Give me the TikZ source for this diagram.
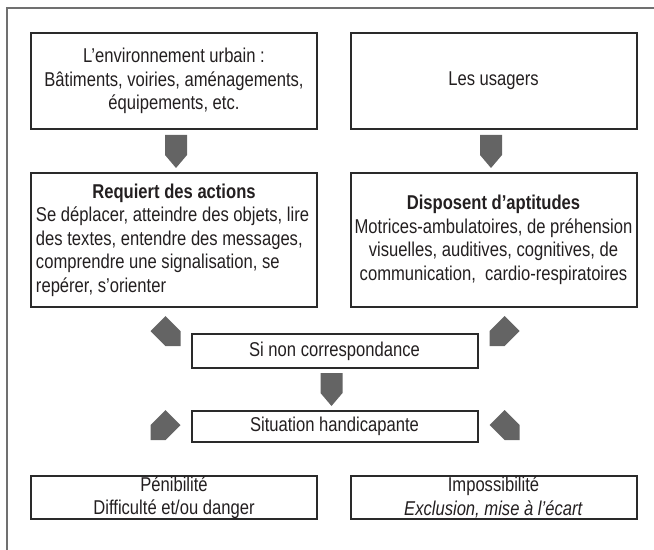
\documentclass[tikz,border=0pt]{standalone}
\usepackage{fontspec}
\setmainfont{Liberation Sans}[FakeStretch=0.83]
\usetikzlibrary{calc,positioning}

\definecolor{boxline}{HTML}{2A2A2A}
\definecolor{arrowgray}{HTML}{646464}
\definecolor{framegray}{HTML}{707070}
\definecolor{ink}{HTML}{231F20}

\tikzset{
    downarrow/.pic={\fill[arrowgray] (-11,0) -- (11,0) -- (11,20) -- (0,33) -- (-11,20) -- cycle;},
    tipleft/.pic={\fill[arrowgray] (-15,0) -- (0,-15) -- (15,0) -- (15,15) -- (0,15) -- cycle;},
    tipright/.pic={\fill[arrowgray] (-15,0) -- (0,-15) -- (15,0) -- (0,15) -- (-15,15) -- cycle;}
}

\begin{document}
\begin{tikzpicture}[x=1bp,y=-1bp,
    box/.style={draw=boxline,line width=2bp,inner sep=0pt,align=center,text=ink,
        minimum width=286bp,font=\fontsize{20bp}{23.5bp}\selectfont}]
    \useasboundingbox (0,0) rectangle (654,550);
    % frame
    \draw[framegray,line width=1.5bp] (7,550) -- (7,8) -- (654,8);

    % top row
    \node[box,minimum height=96bp] (env) at (174,81)
        {L’environnement urbain :\\Bâtiments, voiries, aménagements,\\équipements, etc.};
    \node[box,minimum height=96bp] (usr) at (493.5,81) {Les usagers};

    % actions / aptitudes
    \node[box,minimum height=134bp,align=left] (act) at (174,240)
        {\makebox[276bp][c]{\bfseries Requiert des actions}\\
         Se déplacer, atteindre des objets, lire\\
         des textes, entendre des messages,\\
         comprendre une signalisation, se\\
         repérer, s’orienter};
    \node[box,minimum height=134bp] (apt) at (493.5,240)
        {{\bfseries Disposent d’aptitudes}\\
         Motrices-ambulatoires, de préhension\\
         visuelles, auditives, cognitives, de\\
         communication,\ \ cardio-respiratoires};

    % middle column
    \node[box,minimum height=34bp] (nc) at (334.5,351) {Si non correspondance};
    \node[box,minimum height=31bp] (sh) at (334.5,426.5) {Situation handicapante};

    % results
    \node[box,minimum height=43bp] (pen) at (174,497.5) {Pénibilité\\Difficulté et/ou danger};
    \node[box,minimum height=43bp] (imp) at (493.5,497.5) {Impossibilité\\\textit{Exclusion, mise à l’écart}};

    % block arrows
    \pic at ($(env.south)+(2,5)$) {downarrow};
    \pic at ($(usr.south)+(-2.5,5)$) {downarrow};
    \pic at ($(nc.south)+(-3,4)$) {downarrow};
    \pic at ($(nc.west)+(-25,-20)$) {tipleft};
    \pic at ($(nc.east)+(26,-20)$) {tipright};
    \pic at ($(sh.west)+(-25,-1.5)$) {tipright};
    \pic at ($(sh.east)+(26,-1.5)$) {tipleft};
\end{tikzpicture}
\end{document}
